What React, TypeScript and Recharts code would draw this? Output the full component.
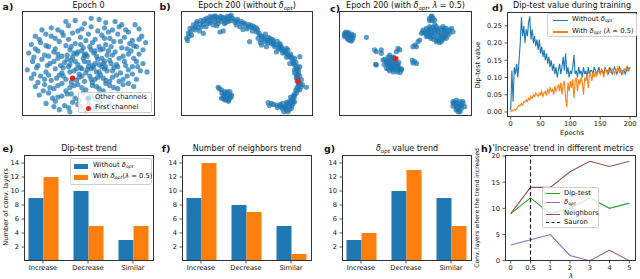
import React from "react";
import { ScatterChart, Scatter, LineChart, Line, BarChart, Bar, XAxis, YAxis, ReferenceLine } from "recharts";

const BLUE = "#1f77b4";
const ORANGE = "#ff7f0e";
const RED = "#ee1c1c";
const FONT = "DejaVu Sans";

// ---- a) t-SNE of channels at epoch 0 (arbitrary embedding units, 0..100)
const epoch0Other: [number, number][] = [
  [40, 91], [47, 88], [58, 92], [70, 90], [75, 87],
  [22, 84], [27, 82], [35, 86], [45, 83], [52, 85], [57, 81], [62, 84], [68, 82], [73, 85], [80, 80], [88, 83],
  [10, 76], [18, 78], [25, 74], [31, 77], [38, 79], [44, 75], [50, 78], [55, 73], [60, 77], [66, 74], [72, 78], [77, 75], [83, 72], [90, 76],
  [7, 68], [14, 70], [20, 66], [28, 71], [33, 67], [40, 69], [46, 65], [53, 70], [58, 66], [63, 68], [69, 71], [75, 65], [81, 69], [86, 66], [93, 70],
  [5, 60], [12, 62], [17, 58], [24, 61], [30, 57], [36, 63], [41, 59], [45, 62], [49, 57], [54, 60], [59, 63], [64, 58], [70, 61], [76, 57], [82, 62], [88, 59],
  [8, 52], [15, 54], [21, 50], [27, 55], [32, 51], [37, 53], [42, 49], [46, 55], [50, 51], [53, 48], [57, 54], [61, 50], [66, 53], [71, 49], [77, 52], [84, 55], [91, 50],
  [4, 44], [11, 46], [18, 42], [25, 45], [30, 41], [35, 47], [39, 43], [44, 46], [48, 41], [52, 45], [56, 42], [60, 47], [64, 43], [69, 46], [74, 41], [80, 44], [87, 47], [94, 42],
  [7, 36], [14, 38], [22, 34], [28, 39], [33, 35], [43, 37], [47, 33], [51, 38], [55, 35], [59, 39], [63, 34], [68, 37], [73, 33], [79, 38], [86, 35],
  [10, 28], [17, 30], [24, 26], [30, 31], [36, 27], [42, 30], [48, 25], [53, 29], [58, 26], [63, 31], [69, 27], [76, 30], [84, 28],
  [13, 20], [20, 22], [27, 18], [34, 21], [40, 17], [46, 22], [52, 19], [58, 21],
  [18, 12], [25, 14], [32, 10], [38, 13], [44, 9], [50, 12], [58, 14], [66, 11],
  [28, 6], [36, 4], [48, 5], [55, 7],
  [38, 56], [42, 61], [48, 59], [52, 63], [56, 57], [40, 52], [45, 45], [50, 47], [55, 50], [60, 55],
  [62, 45], [47, 52], [43, 40], [58, 42], [36, 42], [52, 35], [65, 62], [34, 58], [29, 48], [67, 50],
  [15, 82], [33, 90], [52, 93], [63, 89], [85, 87], [30, 80], [42, 81], [65, 80], [78, 82], [13, 73],
  [22, 76], [35, 73], [48, 72], [62, 74], [74, 71], [88, 73], [10, 64], [18, 67], [25, 64], [37, 66],
  [44, 68], [51, 66], [61, 64], [67, 66], [79, 64], [84, 67], [91, 63], [9, 56], [20, 57], [27, 59],
  [34, 54], [39, 60], [47, 58], [55, 62], [62, 52], [68, 58], [73, 55], [80, 59], [86, 52], [12, 48],
  [19, 48], [24, 52], [31, 46], [36, 49], [41, 45], [49, 44], [54, 46], [58, 49], [63, 47], [68, 43],
  [72, 47], [78, 48], [83, 47], [89, 43], [9, 40], [17, 35], [20, 39], [26, 36], [31, 38], [37, 32],
  [41, 34], [45, 38], [53, 32], [57, 37], [61, 36], [66, 33], [71, 39], [76, 35], [83, 40], [12, 32],
  [21, 27], [27, 29], [33, 24], [39, 29], [45, 27], [56, 28], [61, 24], [66, 29], [72, 26], [80, 31],
  [16, 24], [23, 17], [30, 19], [37, 21], [43, 15], [49, 17], [55, 16], [24, 9], [35, 8], [42, 11],
  [52, 9], [61, 8],
];
const epoch0First: [number, number][] = [[38, 36]];

// ---- b) epoch 200 without delta_opt
const noDeltaOther: [number, number][] = [
  [4.3, 74], [5.5, 79], [6.8, 83.5], [9.3, 86.7], [11.8, 88], [14.4, 87.6], [10.6, 82], [8, 77], [15.6, 85], [16.9, 90],
  [19.4, 93], [21.9, 94.6], [24.4, 95], [27, 94], [29.5, 93], [32, 92], [34.5, 93], [37, 94.6], [38, 91], [40.8, 91.4],
  [43.3, 89.8], [45.8, 88], [48.4, 86.7], [50.9, 85], [53.4, 84.4], [56, 83.5], [29.5, 80], [32, 81], [52, 70.8], [16.9, 78.7],
  [23, 91], [25.7, 90], [28, 88], [30.7, 90], [33, 88], [35.8, 90], [20.7, 88], [24.4, 86.7], [44.6, 85], [47, 82.5], [42, 86.7],
  [18, 92], [26, 92.5], [31, 94], [36, 91.5], [39, 93], [22, 89], [13, 84], [7, 80], [50, 83], [54, 81], [57, 80],
  [12, 90], [15, 91], [17, 87], [20, 90.5], [23, 93.5], [26, 95.5], [28, 91], [30, 95], [33, 93.5], [35, 95],
  [38, 96], [41, 89], [43, 92], [46, 90], [48, 88.5], [51, 87], [53, 86.5], [55, 85.5], [57, 84], [58, 82],
  [11, 85], [9, 83], [6, 76], [5, 72], [14, 81], [19, 85], [27, 86], [34, 89],
  [58.4, 74], [61, 72.4], [63.5, 70.8], [66, 69.8], [68.5, 69], [71, 66], [73.6, 64.4], [76, 62.9], [78.6, 60.3], [81, 58],
  [83.6, 55], [84.9, 51.7], [86, 48.6], [87.4, 45.4], [88.7, 42.2], [90, 56.5], [61, 67.6], [64.7, 66], [69.8, 72.4], [72.3, 61],
  [74.8, 67.6], [79.8, 64.4], [59.7, 77], [62.2, 75.5], [67.3, 74], [82.4, 50], [90, 47], [87.4, 39],
  [60, 70], [65, 72], [70, 68], [75, 65], [77, 60], [80, 56], [85, 53], [86, 44], [88, 37],
  [59, 79], [61, 76], [63, 74], [64, 78], [66, 75], [67, 71], [69, 73], [70, 70], [72, 68], [73, 71],
  [75, 69], [76, 66], [77, 64], [79, 62], [80, 60], [81, 63], [82, 57], [83, 59], [84, 56], [85, 50],
  [86, 55], [87, 51], [88, 47], [89, 44], [89, 40], [90, 38], [86, 41],
  [87.4, 35.9], [90, 31], [91.2, 28], [95, 27.3], [88.7, 24.8], [87.4, 21.6], [86, 18.4], [84.9, 16.8], [83.6, 15.2], [81, 12],
  [78.6, 8.9], [79.8, 5.7], [76, 8.3], [72.3, 10.5], [68.5, 12], [66, 12.7], [82.4, 8.9], [84.9, 12], [86, 13.6], [77, 12],
  [74.8, 9.5], [83.6, 7.3], [91.2, 34.6], [89, 29], [88, 27], [85, 14], [80, 10], [82, 6],
  [88, 33], [89, 31], [90, 25], [92, 30], [87, 25], [86, 21], [85, 19], [83, 18], [83, 12], [82, 14],
  [80, 13], [79, 8], [77, 7], [75, 11], [73, 8], [70, 11], [67, 10], [81, 4], [84, 10], [78, 4],
  [28.2, 27.3], [30.7, 24.8], [33.2, 23.2], [32, 20], [34.5, 18.4], [37, 16.8], [38.3, 20], [35.8, 15.2], [33.2, 15.2],
  [30.7, 16.8], [37, 23.2], [34.5, 21],
  [29, 26], [31, 22], [33, 19], [35, 23], [36, 17], [37, 20], [32, 17], [34, 16], [36, 14], [38, 18],
];
const noDeltaFirst: [number, number][] = [[88.7, 33.3]];

// ---- c) epoch 200 with delta_opt, lambda = 0.5
const withDeltaOther: [number, number][] = [
  [4.3, 78.7], [6.8, 79.4], [9.3, 78], [5.5, 76.2], [8, 75.6], [10.5, 74.6], [6.8, 73], [9.3, 71.4], [4.3, 77.5],
  [5, 80], [7, 77], [9, 76], [11, 77], [6, 74], [8, 72], [10, 73], [4, 76], [7, 79],
  [20.6, 74.9],
  [26.8, 62.9], [31.8, 62.9], [28, 61.3], [31.8, 59.7],
  [44.4, 64.4], [45.6, 62.9], [43.1, 61.3],
  [57, 67.6], [58.2, 66], [55.6, 66], [60.7, 72.4], [59.4, 70.8],
  [55.1, 53.3], [56.9, 51.7], [58.2, 50], [55.6, 50.5],
  [38.1, 58.1], [39.3, 55.9], [40.6, 54.9], [36.8, 53.3], [35.6, 51.7], [34.3, 54], [38.1, 51.7], [39.3, 50.2], [40.6, 48.6],
  [41.9, 51.7], [43.1, 50.2], [36.8, 48.6], [38.1, 47], [39.3, 45.4], [41.9, 45.4], [44.4, 47], [45.6, 44.4], [46.9, 43.8],
  [35.6, 45.4], [33.1, 53.3], [28, 48.6], [27.6, 49.2],
  [37, 56], [39, 53], [41, 56], [38, 49], [40, 47], [42, 48], [44, 49], [37, 45], [40, 44], [43, 44],
  [45, 46], [47, 45], [36, 50], [34, 49], [42, 53], [45, 51], [38, 43], [41, 42], [44, 42], [46, 41.5],
  [69.4, 95.2], [70.7, 93], [71.9, 91.4], [68.2, 90.8], [63.2, 81.9], [65.7, 83.5], [68.2, 85.1], [70.7, 84.4], [73.2, 85.1],
  [75.7, 83.5], [78.2, 85.1], [80.7, 83.5], [83.2, 81.9], [84.5, 83.5], [64.4, 78.7], [66.9, 80.3], [69.4, 80.3], [71.9, 81.3],
  [74.4, 80.3], [76.9, 78.7], [79.4, 78.7], [82, 77.1], [65.7, 75.6], [68.2, 76.2], [70.7, 75.6], [73.2, 74], [75.7, 72.4],
  [78.2, 73], [80.7, 74], [73.2, 70.8], [75.7, 69.8], [61.9, 78.7], [85.7, 80.3], [79.4, 81.3],
  [67, 82], [69, 83], [72, 83], [74, 82], [77, 82], [79, 83.5], [81, 81], [66, 78], [68, 79], [70, 78],
  [72, 79], [74, 77], [76, 77], [78, 76], [80, 77], [67, 76], [69, 74], [71, 73], [74, 72], [77, 71],
  [79, 75], [72, 87], [70, 91], [70, 95], [68, 93], [83, 79], [63, 80], [77, 74],
  [85.7, 13.7], [88.2, 15.2], [90.7, 13.7], [93.2, 12.1], [94.5, 8.9], [92, 7.3], [88.2, 8.9], [85.7, 9.5], [89.5, 4.1],
  [90.7, 5.7], [87.7, 11.4],
  [87, 13], [89, 12], [91, 11], [92, 10], [90, 9], [88, 6], [86, 12], [93, 14], [91, 4], [89, 7],
];
const withDeltaFirst: [number, number][] = [[42.6, 54.6]];

// ---- d) dip-test value during training
const epochs = [
  0, 2, 4, 6, 8, 10, 12, 14, 16, 18, 20, 22, 24, 26, 28, 30, 32, 34, 36, 38,
  40, 42, 44, 46, 48, 50, 52, 54, 56, 58, 60, 62, 64, 66, 68, 70, 72, 74, 76, 78,
  80, 82, 84, 86, 88, 90, 92, 94, 96, 98, 100, 102, 104, 106, 108, 110, 112, 114, 116, 118,
  120, 122, 124, 126, 128, 130, 132, 134, 136, 138, 140, 142, 144, 146, 148, 150, 152, 154, 156, 158,
  160, 162, 164, 166, 168, 170, 172, 174, 176, 178, 180, 182, 184, 186, 188, 190, 192, 194, 196, 198, 200,
];
const dipWithout = [
  0.005, 0.12, 0.03, 0.13, 0.11, 0.14, 0.10, 0.15, 0.20, 0.275,
  0.22, 0.25, 0.20, 0.24, 0.22, 0.26, 0.277, 0.21, 0.24, 0.20,
  0.22, 0.19, 0.21, 0.18, 0.21, 0.17, 0.19, 0.16, 0.18, 0.15,
  0.17, 0.14, 0.16, 0.13, 0.15, 0.12, 0.14, 0.11, 0.13, 0.10,
  0.12, 0.14, 0.11, 0.13, 0.16, 0.12, 0.17, 0.11, 0.13, 0.10,
  0.12, 0.11, 0.13, 0.165, 0.11, 0.12, 0.10, 0.13, 0.11, 0.12,
  0.10, 0.13, 0.11, 0.12, 0.10, 0.13, 0.11, 0.12, 0.12, 0.11,
  0.13, 0.12, 0.11, 0.12, 0.13, 0.11, 0.12, 0.12, 0.11, 0.13,
  0.12, 0.12, 0.11, 0.13, 0.12, 0.11, 0.12, 0.13, 0.12, 0.11,
  0.12, 0.13, 0.12, 0.11, 0.12, 0.12, 0.11, 0.12, 0.13, 0.12, 0.13,
];
const dipWith = [
  0.0, 0.005, 0.003, 0.008, 0.006, 0.01, 0.015, 0.02, 0.018, 0.025,
  0.02, 0.03, 0.028, 0.035, 0.03, 0.04, 0.035, 0.045, 0.04, 0.05,
  0.045, 0.055, 0.05, 0.045, 0.055, 0.05, 0.06, 0.045, 0.055, 0.06,
  0.05, 0.065, 0.055, 0.07, 0.06, 0.065, 0.05, 0.075, 0.06, 0.07,
  0.08, 0.06, 0.085, 0.05, 0.08, 0.09, 0.04, 0.015, 0.085, 0.06,
  0.09, 0.07, 0.095, 0.04, 0.09, 0.10, 0.06, 0.095, 0.08, 0.10,
  0.085, 0.05, 0.10, 0.09, 0.11, 0.07, 0.105, 0.11, 0.09, 0.115,
  0.10, 0.12, 0.105, 0.115, 0.12, 0.11, 0.125, 0.115, 0.10, 0.125,
  0.12, 0.11, 0.125, 0.12, 0.115, 0.125, 0.12, 0.11, 0.125, 0.12,
  0.13, 0.115, 0.125, 0.12, 0.11, 0.125, 0.12, 0.13, 0.12, 0.125, 0.12,
];
const dipTicks = [0, 0.05, 0.1, 0.15, 0.2, 0.25];
const epochTicks = [0, 50, 100, 150, 200];

// ---- e/f/g) trend bars
const trendCats = ["Increase", "Decrease", "Similar"];
const dipTrendWithout = [9, 10, 3];
const dipTrendWith = [12, 5, 5];
const neighTrendWithout = [9, 8, 5];
const neighTrendWith = [14, 7, 1];
const deltaTrendWithout = [3, 10, 9];
const deltaTrendWith = [4, 13, 5];
const countTicks = [2, 4, 6, 8, 10, 12, 14];

// ---- h) 'Increase' trend vs lambda
const lambdaLabels = ["0", "0.5", "1", "2", "3", "4", "5"];
const incDip = [9, 12, 9, 10, 12, 10, 11];
const incDelta = [3, 4, 5, 1, 0, 2, 0];
const incNeighbors = [9, 14, 14, 17, 19, 18, 19];
const incTicks = [0, 5, 10, 15, 20];

type Box = { x: number; y: number; w: number; h: number };
const BOX_A: Box = { x: 22, y: 11, w: 133, h: 105 };
const BOX_B: Box = { x: 181, y: 11, w: 132, h: 105 };
const BOX_C: Box = { x: 339, y: 11, w: 133, h: 105 };
const BOX_D: Box = { x: 507, y: 12, w: 130, h: 105 };
const BOX_E: Box = { x: 24, y: 155, w: 130, h: 106 };
const BOX_F: Box = { x: 182, y: 155, w: 130, h: 106 };
const BOX_G: Box = { x: 342, y: 155, w: 130, h: 106 };
const BOX_H: Box = { x: 505, y: 155, w: 131, h: 106 };

const YW = 30;
const XH = 20;
const T = 2;
const R = 2;
const tick = { fontSize: 6.7, fill: "#111", fontFamily: FONT };
const tickLine = { stroke: "#333", strokeWidth: 0.8 };

const Dopt = () => (
  <span>
    <i>δ</i>
    <span style={{ fontSize: "0.68em", fontStyle: "italic", position: "relative", top: "0.3em" }}>opt</span>
  </span>
);

function Txt({ x, y, size = 6.7, anchor = "middle", rotate = 0, bold = false, italic = false, children }: any) {
  const tx = anchor === "middle" ? "-50%" : "0";
  return (
    <div
      style={{
        position: "absolute",
        left: x,
        top: y,
        transform: `translate(${tx}, -50%) rotate(${rotate}deg)`,
        fontSize: size,
        lineHeight: 1,
        whiteSpace: "nowrap",
        fontWeight: bold ? "bold" : "normal",
        fontStyle: italic ? "italic" : "normal",
        color: "#111",
      }}
    >
      {children}
    </div>
  );
}

function Frame({ box }: { box: Box }) {
  return (
    <div
      style={{
        position: "absolute",
        left: box.x,
        top: box.y,
        width: box.w,
        height: box.h,
        border: "1px solid #333",
        boxSizing: "border-box",
      }}
    />
  );
}

const dot = (fill: string, r: number, op: number) => (p: any) =>
  <circle cx={p.cx} cy={p.cy} r={r} fill={fill} fillOpacity={op} />;

function Embedding({ box, other, first }: { box: Box; other: [number, number][]; first: [number, number][] }) {
  const o = other.map(([x, y]) => ({ x, y }));
  const f = first.map(([x, y]) => ({ x, y }));
  return (
    <div style={{ position: "absolute", left: box.x, top: box.y }}>
      <ScatterChart width={box.w} height={box.h} margin={{ top: 0, right: 0, bottom: 0, left: 0 }}>
        <XAxis type="number" dataKey="x" domain={[0, 100]} hide />
        <YAxis type="number" dataKey="y" domain={[0, 100]} hide />
        <Scatter data={o} isAnimationActive={false} shape={dot(BLUE, 2.6, 0.72)} />
        <Scatter data={f} isAnimationActive={false} shape={dot(RED, 2.7, 1)} />
      </ScatterChart>
    </div>
  );
}

function TrendBars({ box, without, withD }: { box: Box; without: number[]; withD: number[] }) {
  const rows = trendCats.map((c, i) => ({ cat: c, without: without[i], with: withD[i] }));
  return (
    <div style={{ position: "absolute", left: box.x - YW, top: box.y - T }}>
      <BarChart
        width={YW + box.w + R}
        height={T + box.h + XH}
        data={rows}
        margin={{ top: T, right: R, left: 0, bottom: 0 }}
        barSize={15}
        barGap={0}
      >
        <XAxis
          dataKey="cat"
          height={XH}
          padding={{ left: -3.5, right: box.w - 131.5 }}
          axisLine={false}
          tickLine={tickLine}
          tickSize={2.5}
          tickMargin={2}
          tick={tick}
          interval={0}
        />
        <YAxis
          width={YW}
          domain={[0, 15.14]}
          ticks={countTicks}
          allowDataOverflow
          axisLine={false}
          tickLine={tickLine}
          tickSize={2.5}
          tickMargin={2.5}
          tick={tick}
          interval={0}
        />
        <Bar dataKey="without" fill={BLUE} isAnimationActive={false} />
        <Bar dataKey="with" fill={ORANGE} isAnimationActive={false} />
      </BarChart>
    </div>
  );
}

function DipChart({ box }: { box: Box }) {
  const rows = epochs.map((e, i) => ({ epoch: e, without: dipWithout[i], with: dipWith[i] }));
  return (
    <div style={{ position: "absolute", left: box.x - YW, top: box.y - T }}>
      <LineChart
        width={YW + box.w + R}
        height={T + box.h + XH}
        data={rows}
        margin={{ top: T, right: R, left: 0, bottom: 0 }}
      >
        <XAxis
          type="number"
          dataKey="epoch"
          domain={[-6.2, 211.7]}
          ticks={epochTicks}
          allowDataOverflow
          height={XH}
          axisLine={false}
          tickLine={tickLine}
          tickSize={2.5}
          tickMargin={2}
          tick={tick}
          interval={0}
        />
        <YAxis
          width={YW}
          domain={[-0.0145, 0.29]}
          ticks={dipTicks}
          allowDataOverflow
          tickFormatter={(v: number) => v.toFixed(2)}
          axisLine={false}
          tickLine={tickLine}
          tickSize={2.5}
          tickMargin={2.5}
          tick={tick}
          interval={0}
        />
        <Line dataKey="without" stroke={BLUE} strokeWidth={1.1} dot={false} isAnimationActive={false} />
        <Line dataKey="with" stroke={ORANGE} strokeWidth={1.1} dot={false} isAnimationActive={false} />
      </LineChart>
    </div>
  );
}

function IncreaseChart({ box }: { box: Box }) {
  const rows = lambdaLabels.map((_, i) => ({ i, dip: incDip[i], delta: incDelta[i], neighbors: incNeighbors[i] }));
  return (
    <div style={{ position: "absolute", left: box.x - YW, top: box.y - T }}>
      <LineChart
        width={YW + box.w + R}
        height={T + box.h + XH}
        data={rows}
        margin={{ top: T, right: R, left: 0, bottom: 0 }}
      >
        <XAxis
          type="number"
          dataKey="i"
          domain={[-0.29, 6.34]}
          ticks={[0, 1, 2, 3, 4, 5, 6]}
          tickFormatter={(v: number) => lambdaLabels[v]}
          allowDataOverflow
          height={XH}
          axisLine={false}
          tickLine={tickLine}
          tickSize={2.5}
          tickMargin={2}
          tick={tick}
          interval={0}
        />
        <YAxis
          width={YW}
          domain={[-0.06, 20.19]}
          ticks={incTicks}
          allowDataOverflow
          axisLine={false}
          tickLine={tickLine}
          tickSize={2.5}
          tickMargin={2.5}
          tick={tick}
          interval={0}
        />
        <Line dataKey="dip" stroke="#2ca02c" strokeWidth={1.1} dot={false} isAnimationActive={false} />
        <Line dataKey="delta" stroke="#9467bd" strokeWidth={1.1} dot={false} isAnimationActive={false} />
        <Line dataKey="neighbors" stroke="#8c564b" strokeWidth={1.1} dot={false} isAnimationActive={false} />
        <ReferenceLine x={1} stroke="#222" strokeWidth={1.2} strokeDasharray="4 2.5" />
      </LineChart>
    </div>
  );
}

const legendBox = (x: number, y: number, w: number, h: number): React.CSSProperties => ({
  position: "absolute",
  left: x,
  top: y,
  width: w,
  height: h,
  background: "rgba(255,255,255,0.8)",
  border: "1px solid #d0d0d0",
  borderRadius: 2,
  boxSizing: "border-box",
});

export default function App() {
  return (
    <div
      style={{
        position: "absolute",
        left: 0,
        top: 0,
        width: 640,
        height: 279,
        overflow: "hidden",
        background: "#fff",
        fontFamily: FONT,
      }}
    >
      <Embedding box={BOX_A} other={epoch0Other} first={epoch0First} />
      <Embedding box={BOX_B} other={noDeltaOther} first={noDeltaFirst} />
      <Embedding box={BOX_C} other={withDeltaOther} first={withDeltaFirst} />
      <DipChart box={BOX_D} />
      <TrendBars box={BOX_E} without={dipTrendWithout} withD={dipTrendWith} />
      <TrendBars box={BOX_F} without={neighTrendWithout} withD={neighTrendWith} />
      <TrendBars box={BOX_G} without={deltaTrendWithout} withD={deltaTrendWith} />
      <IncreaseChart box={BOX_H} />

      {[BOX_A, BOX_B, BOX_C, BOX_D, BOX_E, BOX_F, BOX_G, BOX_H].map((b, i) => (
        <Frame key={i} box={b} />
      ))}

      {/* panel letters */}
      <Txt x={8} y={7} size={9.5} bold>a)</Txt>
      <Txt x={165} y={7} size={9.5} bold>b)</Txt>
      <Txt x={335} y={8.5} size={9.5} bold>c)</Txt>
      <Txt x={497.5} y={7.5} size={9.5} bold>d)</Txt>
      <Txt x={8} y={148.5} size={9.5} bold>e)</Txt>
      <Txt x={166} y={148.5} size={9.5} bold>f)</Txt>
      <Txt x={329.5} y={148.5} size={9.5} bold>g)</Txt>
      <Txt x={486.5} y={148.5} size={9.5} bold>h)</Txt>

      {/* titles */}
      <Txt x={88.5} y={6} size={8}>Epoch 0</Txt>
      <Txt x={247} y={6} size={8}>Epoch 200 (without <Dopt />)</Txt>
      <Txt x={405.5} y={6} size={8}>Epoch 200 (with <Dopt />, <i>λ</i> = 0.5)</Txt>
      <Txt x={572} y={6} size={8}>Dip-test value during training</Txt>
      <Txt x={89} y={149} size={8}>Dip-test trend</Txt>
      <Txt x={247} y={149} size={8}>Number of neighbors trend</Txt>
      <Txt x={407} y={149} size={8}><Dopt /> value trend</Txt>
      <Txt x={492.5} y={149} size={8} anchor="start">'Increase' trend in different metrics</Txt>

      {/* axis labels */}
      <Txt x={478} y={64.5} rotate={-90}>Dip-test value</Txt>
      <Txt x={572} y={132.7}>Epochs</Txt>
      <Txt x={5.5} y={207} rotate={-90}>Number of conv. layers</Txt>
      <Txt x={477} y={208} size={6.1} rotate={-90}>Conv. layers where the trend increased</Txt>
      <Txt x={571} y={275.5} italic>λ</Txt>

      {/* legend a */}
      <div style={legendBox(78, 92, 74, 21)}>
        <div style={{ position: "absolute", left: 7, top: 3, width: 5, height: 5, borderRadius: "50%", background: BLUE, opacity: 0.25 }} />
        <div style={{ position: "absolute", left: 7, top: 12.5, width: 5, height: 5, borderRadius: "50%", background: RED }} />
      </div>
      <Txt x={95} y={97.3} anchor="start" size={6.8}>Other channels</Txt>
      <Txt x={95} y={107.3} anchor="start" size={6.8}>First channel</Txt>

      {/* legend d */}
      <div style={legendBox(547, 13, 90, 24)}>
        <div style={{ position: "absolute", left: 5, top: 5.5, width: 15, height: 1.3, background: BLUE }} />
        <div style={{ position: "absolute", left: 5, top: 17.3, width: 15, height: 1.3, background: ORANGE }} />
      </div>
      <Txt x={572} y={19} anchor="start" size={6.8}>Without <Dopt /></Txt>
      <Txt x={572} y={30.7} anchor="start" size={6.8}>With <Dopt /> (<i>λ</i> = 0.5)</Txt>

      {/* legend e */}
      <div style={legendBox(70, 158, 82, 27)}>
        <div style={{ position: "absolute", left: 3, top: 4.5, width: 14, height: 5, background: BLUE }} />
        <div style={{ position: "absolute", left: 3, top: 15.5, width: 14, height: 5, background: ORANGE }} />
      </div>
      <Txt x={93} y={164.5} anchor="start" size={6.8}>Without <Dopt /></Txt>
      <Txt x={93} y={175.8} anchor="start" size={6.8}>With <Dopt />(<i>λ</i> = 0.5)</Txt>

      {/* legend h */}
      <div style={legendBox(542, 187, 57, 41)}>
        <div style={{ position: "absolute", left: 2.5, top: 5, width: 14, height: 1.2, background: "#2ca02c" }} />
        <div style={{ position: "absolute", left: 2.5, top: 14, width: 14, height: 1.2, background: "#9467bd" }} />
        <div style={{ position: "absolute", left: 2.5, top: 25.5, width: 14, height: 1.2, background: "#8c564b" }} />
        <div style={{ position: "absolute", left: 2.5, top: 34, width: 14, height: 0, borderTop: "1.2px dashed #222" }} />
      </div>
      <Txt x={564} y={193} anchor="start" size={6.8}>Dip-test</Txt>
      <Txt x={564} y={201.5} anchor="start" size={6.8}><Dopt /></Txt>
      <Txt x={564} y={213} anchor="start" size={6.8}>Neighbors</Txt>
      <Txt x={564} y={221.7} anchor="start" size={6.8}>Sauron</Txt>
    </div>
  );
}
